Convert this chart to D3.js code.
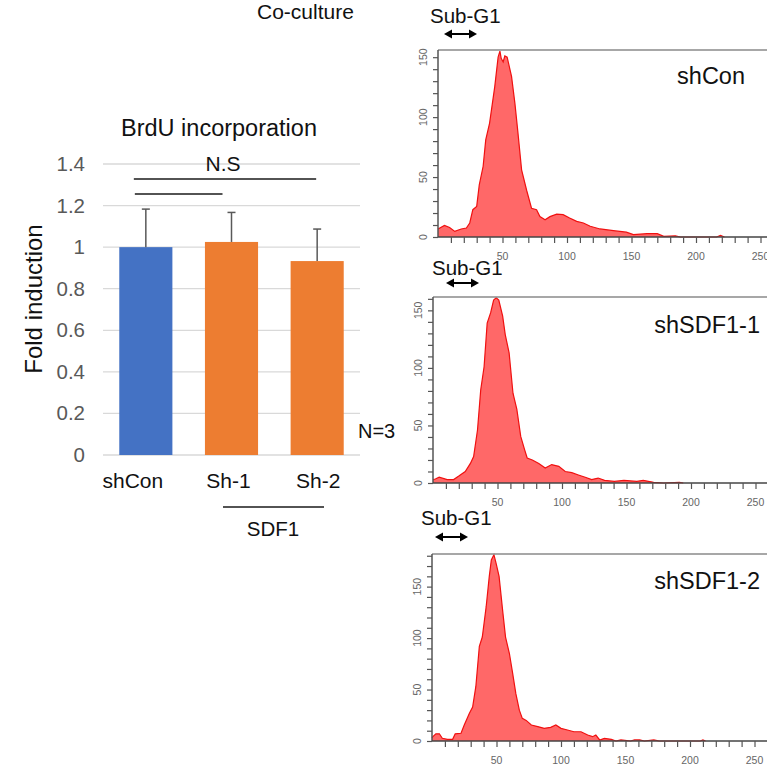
<!DOCTYPE html>
<html><head><meta charset="utf-8">
<script src="https://cdn.jsdelivr.net/npm/d3@7"></script>
<style>body{margin:0;background:#fff}svg{display:block;font-family:"Liberation Sans",Arial,sans-serif}</style>
</head><body><svg id="c" width="767" height="770"></svg>
<script>
// ---- Bar chart data ----
const categories = ["shCon", "Sh-1", "Sh-2"];
const foldValues = [1.0, 1.025, 0.933];
const errorValues = [0.183, 0.142, 0.154];
const barColors = ["#4472C4", "#ED7D31", "#ED7D31"];
const yTicks = [0, 0.2, 0.4, 0.6, 0.8, 1, 1.2, 1.4];

// ---- Histogram data (channel, count) ----
const histNames = ["shCon", "shSDF1-1", "shSDF1-2"];
const histChannels1 = [0,5,9,13,18,22,24.6,27,30,32,35,37,40,44,46.6,48,49,50.5,51.8,53.6,57,59.6,62,64.8,68.7,72.5,76.4,79,83,86.8,92,97,102,107.5,112.7,118,125.6,136,146,151.5,162,170,175,184,188,216,219,222];
const histCounts1   = [6.7,9.7,8,4.7,6.7,7.5,11.7,22.8,25.5,43.6,59,81,95,125.5,150,155,149,146,151,150,134,111.7,86.7,56,39,24,22.8,17,14.4,17,19,18.6,15.8,13,11.7,9,6.7,5.3,4,2,2.8,2.8,0.5,1,0,0,1.4,0];
const histChannels2 = [0,1.8,4.8,11,16,20,25,29,31.5,34.5,37,39.6,42,44.7,47,49,51,54,56,59,62,65,68,71,73,77,82,87,92,97.5,102.5,107.6,112.7,118,123,128,133,140.6,148,158,163,171,178.7,191,194];
const histCounts2   = [3,3.5,5,3,3,6,10,17,23,46,81,101,139,148,159,161,159,145,129,113,78,64,40.5,29,21.7,20,17,13,16,14.5,10,9,7,5,3,4.3,2.3,1.4,2.3,1.4,2.3,0.6,0,0.6,0];
const histChannels3 = [0,0.5,3,5.7,8,12,16,18,22.5,25,29,31.5,34,36.7,39,42,44.4,46,48,49.6,52,55,57,60,62.5,65,67.7,70,73,77,82,87,92,96,100,105,110,115.5,120.7,124.5,127,130,133.6,139,142.6,146.5,154,157,161,164.6,172,176,208,210,212];
const histCounts3   = [3,4,7,7,2.6,1.6,1.6,7,7.5,15.5,27,33,53,92,101,130.5,160,176,181,173,160,124,101,85,66,46,30,22,20,15.5,14,12.3,13.3,15.5,12.3,10.7,9,9,5.8,4.2,5.8,1,2.6,1.6,0,1,0,1,1,0,1,0,0,1,0];
const histXTicks = [50, 100, 150, 200, 250];
const histYTicks = [0, 50, 100, 150];

const svg = d3.select("#c");

// ---------- Bar chart ----------
const x = d3.scaleBand().domain(categories).range([103, 360]).paddingInner(0.38).paddingOuter(0.19);
const y = d3.scaleLinear().domain([0, 1.4]).range([455, 164]);

const g = svg.append("g");
g.selectAll("line.grid").data(yTicks).join("line")
  .attr("x1", 103).attr("x2", 360)
  .attr("y1", d => y(d)).attr("y2", d => y(d))
  .attr("stroke", "#d9d9d9").attr("stroke-width", 1.3);
g.selectAll("text.yt").data(yTicks).join("text")
  .attr("x", 85).attr("y", d => y(d) + 7)
  .attr("text-anchor", "end").attr("font-size", 20.5).attr("fill", "#595959")
  .text(d => d);

g.selectAll("rect.bar").data(categories).join("rect")
  .attr("x", d => x(d)).attr("width", x.bandwidth())
  .attr("y", (d, i) => y(foldValues[i]))
  .attr("height", (d, i) => y(0) - y(foldValues[i]))
  .attr("fill", (d, i) => barColors[i]);

// error bars
categories.forEach((c, i) => {
  const cx = x(c) + x.bandwidth() / 2;
  g.append("line").attr("x1", cx).attr("x2", cx)
    .attr("y1", y(foldValues[i])).attr("y2", y(foldValues[i] + errorValues[i]))
    .attr("stroke", "#595959").attr("stroke-width", 1.5);
  g.append("line").attr("x1", cx - 4).attr("x2", cx + 4)
    .attr("y1", y(foldValues[i] + errorValues[i])).attr("y2", y(foldValues[i] + errorValues[i]))
    .attr("stroke", "#595959").attr("stroke-width", 1.5);
});

// category labels
const labelDx = [-13, -3, 1];
g.selectAll("text.xl").data(categories).join("text")
  .attr("x", (d, i) => x(d) + x.bandwidth() / 2 + labelDx[i]).attr("y", 488)
  .attr("text-anchor", "middle").attr("font-size", 21).attr("fill", "#111")
  .text(d => d);

// titles
g.append("text").attr("x", 219).attr("y", 136).attr("text-anchor", "middle")
  .attr("font-size", 23.5).attr("fill", "#111").text("BrdU incorporation");
g.append("text").attr("transform", "translate(42,299) rotate(-90)").attr("text-anchor", "middle")
  .attr("font-size", 24).attr("fill", "#111").text("Fold induction");

// significance
const midShCon = x("shCon") + x.bandwidth() / 2;
g.append("line").attr("x1", midShCon - 12).attr("x2", x("Sh-2") + x.bandwidth() / 2 - 1).attr("y1", 179).attr("y2", 179)
  .attr("stroke", "#1a1a1a").attr("stroke-width", 1.3);
g.append("line").attr("x1", midShCon - 11).attr("x2", x("Sh-1") + x.bandwidth() / 2 - 9).attr("y1", 194).attr("y2", 194)
  .attr("stroke", "#1a1a1a").attr("stroke-width", 1.3);
g.append("text").attr("x", 223).attr("y", 171).attr("text-anchor", "middle")
  .attr("font-size", 21).attr("fill", "#111").text("N.S");

// SDF1 group
g.append("line").attr("x1", 223).attr("x2", 324).attr("y1", 507).attr("y2", 507)
  .attr("stroke", "#1a1a1a").attr("stroke-width", 1.3);
g.append("text").attr("x", 273).attr("y", 536).attr("text-anchor", "middle")
  .attr("font-size", 20.5).attr("fill", "#111").text("SDF1");
g.append("text").attr("x", 358).attr("y", 438)
  .attr("font-size", 20).attr("fill", "#111").text("N=3");

svg.append("text").attr("x", 257).attr("y", 19).attr("font-size", 21).attr("fill", "#111").text("Co-culture");

// ---------- Histograms ----------
const panels = [
  { left: 438, top: 50, bottom: 237, ymax: 156, ch: histChannels1, ct: histCounts1, name: histNames[0], nameX: 745, nameY: 84, subX: 430, subY: 23, arrX: 444, arrY: 34 },
  { left: 433, top: 297, bottom: 483, ymax: 161.6, ch: histChannels2, ct: histCounts2, name: histNames[1], nameX: 760, nameY: 333, subX: 432, subY: 275, arrX: 446, arrY: 283 },
  { left: 432, top: 554, bottom: 741, ymax: 181.7, ch: histChannels3, ct: histCounts3, name: histNames[2], nameX: 760, nameY: 589, subX: 421, subY: 525, arrX: 435, arrY: 537 }
];

panels.forEach(p => {
  const hx = d3.scaleLinear().domain([0, 260]).range([p.left, p.left + 260 * 1.29]);
  const hy = d3.scaleLinear().domain([0, p.ymax]).range([p.bottom, p.top]);
  const pg = svg.append("g");
  const pts = p.ch.map((c, i) => [c, p.ct[i]]);
  const area = d3.area().x(d => hx(d[0])).y0(hy(0)).y1(d => hy(d[1]));
  const line = d3.line().x(d => hx(d[0])).y(d => hy(d[1]));
  pg.append("path").attr("d", area(pts)).attr("fill", "#ff6868");
  pg.append("path").attr("d", line(pts)).attr("fill", "none").attr("stroke", "#f01010").attr("stroke-width", 1.2);

  // frame
  pg.append("line").attr("x1", p.left).attr("x2", 767).attr("y1", p.top).attr("y2", p.top).attr("stroke", "#8a8a8a").attr("stroke-width", 1.5);
  pg.append("line").attr("x1", p.left).attr("x2", p.left).attr("y1", p.top).attr("y2", p.bottom).attr("stroke", "#555").attr("stroke-width", 1.5);
  pg.append("line").attr("x1", p.left).attr("x2", 767).attr("y1", p.bottom).attr("y2", p.bottom).attr("stroke", "#444").attr("stroke-width", 1.5);

  const xAxis = d3.axisBottom(hx).tickValues(d3.range(10, 261, 10)).tickSize(6).tickFormat("");
  pg.append("g").attr("transform", `translate(0,${p.bottom})`).call(xAxis)
    .call(s => s.select(".domain").remove())
    .call(s => s.selectAll("line").attr("stroke", "#555").attr("stroke-width", 1.2));
  pg.selectAll("text.hxl").data(histXTicks).join("text")
    .attr("x", d => hx(d)).attr("y", p.bottom + 23).attr("text-anchor", "middle")
    .attr("font-size", 10.5).attr("fill", "#666").text(d => d);

  const yAxis = d3.axisLeft(hy).tickValues(d3.range(0, p.ymax, 10)).tickSize(5).tickFormat("");
  pg.append("g").attr("transform", `translate(${p.left},0)`).call(yAxis)
    .call(s => s.select(".domain").remove())
    .call(s => s.selectAll("line").attr("stroke", "#555").attr("stroke-width", 1.2));
  pg.selectAll("text.hyl").data(histYTicks).join("text")
    .attr("transform", d => `translate(${p.left - 11},${hy(d)}) rotate(-90)`)
    .attr("text-anchor", "middle").attr("font-size", 10.5).attr("fill", "#666").text(d => d);

  pg.append("text").attr("x", p.nameX).attr("y", p.nameY).attr("text-anchor", "end")
    .attr("font-size", 23.5).attr("fill", "#111").text(p.name);
  pg.append("text").attr("x", p.subX).attr("y", p.subY)
    .attr("font-size", 20.5).attr("fill", "#111").text("Sub-G1");
  // double arrow
  const ax0 = p.arrX, ax1 = p.arrX + 33, ay = p.arrY;
  pg.append("line").attr("x1", ax0 + 5).attr("x2", ax1 - 5).attr("y1", ay).attr("y2", ay).attr("stroke", "#000").attr("stroke-width", 2);
  pg.append("path").attr("d", `M${ax0},${ay}L${ax0 + 8},${ay - 4.5}L${ax0 + 8},${ay + 4.5}Z`).attr("fill", "#000");
  pg.append("path").attr("d", `M${ax1},${ay}L${ax1 - 8},${ay - 4.5}L${ax1 - 8},${ay + 4.5}Z`).attr("fill", "#000");
});
</script></body></html>
